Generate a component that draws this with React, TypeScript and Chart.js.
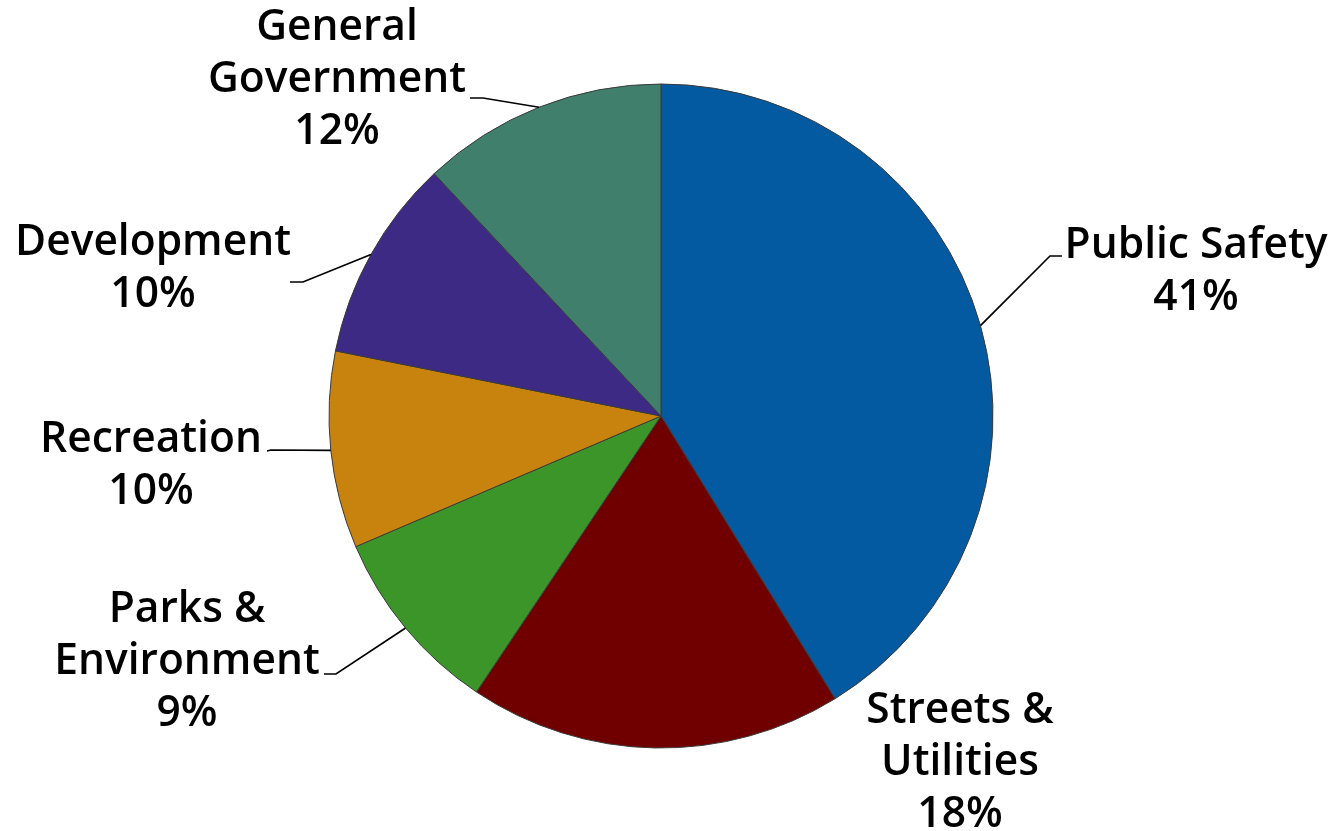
import React, { useEffect, useRef } from "react";
import { Chart, registerables } from "chart.js";

Chart.register(...registerables);

const categories = [
  "Public Safety",
  "Streets &\nUtilities",
  "Parks &\nEnvironment",
  "Recreation",
  "Development",
  "General\nGovernment",
];
const shares = [41.3, 18.2, 9.2, 9.6, 9.9, 12.0];
const colors = ["#045AA0", "#700000", "#3B9529", "#C8830E", "#3D2A85", "#3F7F6B"];

// label layout relative to pie centre (px)
const labelLayout = [
  { dx: 535, baseY: -158, leader: [[401, -160], [389, -160]] },
  { dx: 299, baseY: 307, leader: null },
  { dx: -474, baseY: 206, leader: [[-337, 258], [-325, 258]] },
  { dx: -510, baseY: 36, leader: [[-394, 35], [-390, 34]] },
  { dx: -508, baseY: -161, leader: [[-371, -134], [-358, -134]] },
  { dx: -324, baseY: -376, leader: [[-191, -318], [-178, -318]] },
];

const FONT = '600 42.5px "Open Sans", sans-serif';
const LINE_H = 52;

const labelPlugin = {
  id: "pieLabels",
  afterDraw(chart: any) {
    const ctx = chart.ctx;
    const meta = chart.getDatasetMeta(0);
    const data = chart.data.datasets[0].data as number[];
    const total = data.reduce((a, b) => a + b, 0);
    ctx.save();
    meta.data.forEach((arc: any, i: number) => {
      const { x, y, startAngle, endAngle, outerRadius } = arc.getProps(
        ["x", "y", "startAngle", "endAngle", "outerRadius"],
        true
      );
      const lay = labelLayout[i];
      if (lay.leader) {
        const mid = (startAngle + endAngle) / 2;
        const ex = x + Math.cos(mid) * outerRadius;
        const ey = y + Math.sin(mid) * outerRadius;
        ctx.beginPath();
        ctx.strokeStyle = "#000";
        ctx.lineWidth = 1.7;
        ctx.moveTo(x + lay.leader[0][0], y + lay.leader[0][1]);
        ctx.lineTo(x + lay.leader[1][0], y + lay.leader[1][1]);
        ctx.lineTo(ex, ey);
        ctx.stroke();
      }
      const lines = String(chart.data.labels[i]).split("\n");
      lines.push(Math.round((data[i] / total) * 100) + "%");
      ctx.fillStyle = "#000";
      ctx.font = FONT;
      ctx.textAlign = "center";
      ctx.textBaseline = "alphabetic";
      lines.forEach((t: string, k: number) => {
        ctx.fillText(t, x + lay.dx, y + lay.baseY + k * LINE_H);
      });
    });
    ctx.restore();
  },
};

export default function App() {
  const ref = useRef<HTMLCanvasElement | null>(null);
  useEffect(() => {
    document.body.style.margin = "0";
    const chart = new Chart(ref.current as HTMLCanvasElement, {
      type: "pie",
      data: {
        labels: categories,
        datasets: [
          {
            data: shares,
            backgroundColor: colors,
            borderColor: "#3a3a3a",
            borderWidth: 1,
          },
        ],
      },
      options: {
        responsive: false,
        animation: false,
        radius: 332,
        layout: { padding: { left: 0, right: 11, top: 1, bottom: 0 } },
        plugins: {
          legend: { display: false },
          tooltip: { enabled: false },
        },
      } as any,
      plugins: [labelPlugin],
    });
    return () => chart.destroy();
  }, []);
  return (
    <div style={{ position: "absolute", left: 0, top: 0, width: 1333, height: 831, background: "#fff" }}>
      <canvas ref={ref} width={1333} height={831} />
    </div>
  );
}
